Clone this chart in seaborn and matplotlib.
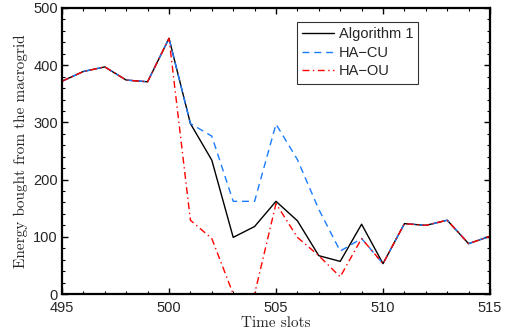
import numpy as np
import pandas as pd
import seaborn as sns
import matplotlib
matplotlib.use('Agg')
import matplotlib.pyplot as plt
from matplotlib.ticker import MultipleLocator

# Data
slots = list(range(495, 516))
alg1 = [372, 389, 397, 374, 371, 447, 298, 234, 99, 118, 162, 128, 67, 57, 122, 53, 123, 120, 129, 88, 101]
ha_cu = [372, 389, 397, 374, 371, 447, 298, 276, 162, 162, 297, 235, 148, 75, 97, 53, 123, 120, 129, 88, 101]
ha_ou = [372, 389, 397, 374, 371, 447, 129, 97, 0, 0, 158, 99, 67, 30, 97, 53, 123, 120, 129, 88, 101]

df = pd.DataFrame({'slot': slots, 'Algorithm 1': alg1, 'HA\u2212CU': ha_cu, 'HA\u2212OU': ha_ou})

sns.set_style('white')
plt.rcParams['font.family'] = ['Liberation Sans', 'DejaVu Sans']

fig = plt.figure(figsize=(5.13, 3.33), dpi=100)
ax = fig.add_axes([62/513, 1 - 294/333, (490-62)/513, (294-8)/333])

sns.lineplot(data=df, x='slot', y='Algorithm 1', color='black', lw=1.0, ax=ax, label='Algorithm 1')
sns.lineplot(data=df, x='slot', y='HA\u2212CU', color='#1a7cff', lw=1.0, ls=(0, (5, 3.5)), ax=ax, label='HA\u2212CU')
sns.lineplot(data=df, x='slot', y='HA\u2212OU', color='#ff0000', lw=1.0, ls=(0, (5, 2.5, 1, 2.5)), ax=ax, label='HA\u2212OU')

ax.set_xlim(495, 515)
ax.set_ylim(0, 500)
ax.xaxis.set_major_locator(MultipleLocator(5))
ax.xaxis.set_minor_locator(MultipleLocator(1))
ax.yaxis.set_major_locator(MultipleLocator(100))
ax.yaxis.set_minor_locator(MultipleLocator(20))
ax.tick_params(which='both', direction='in', bottom=True, left=True, top=True, right=True,
               labelsize=10.5, color='black')
ax.tick_params(axis='x', which='major', pad=5)
ax.tick_params(axis='y', which='major', pad=3)
ax.tick_params(which='major', length=4.5, width=1)
ax.tick_params(which='minor', length=2.2, width=0.8)
for s in ax.spines.values():
    s.set_linewidth(1.6)
    s.set_color('black')

ax.set_xlabel('Time slots', fontfamily='cmr10', fontsize=11, labelpad=1)
ax.set_ylabel('Energy bought from the macrogrid', fontfamily='cmr10', fontsize=11, labelpad=4)

# Legend box placed where the reference has it
leg = ax.legend(loc='upper left', fontsize=10.5, frameon=True, fancybox=False, edgecolor='black',
                handlelength=2.2, handletextpad=0.3, borderpad=0.35, labelspacing=0.32,
                borderaxespad=0,
                bbox_to_anchor=((297 - 62) / 428, 1 - (22 - 8) / 286))
leg.get_frame().set_linewidth(0.8)

fig.savefig('out.png', dpi=100)
